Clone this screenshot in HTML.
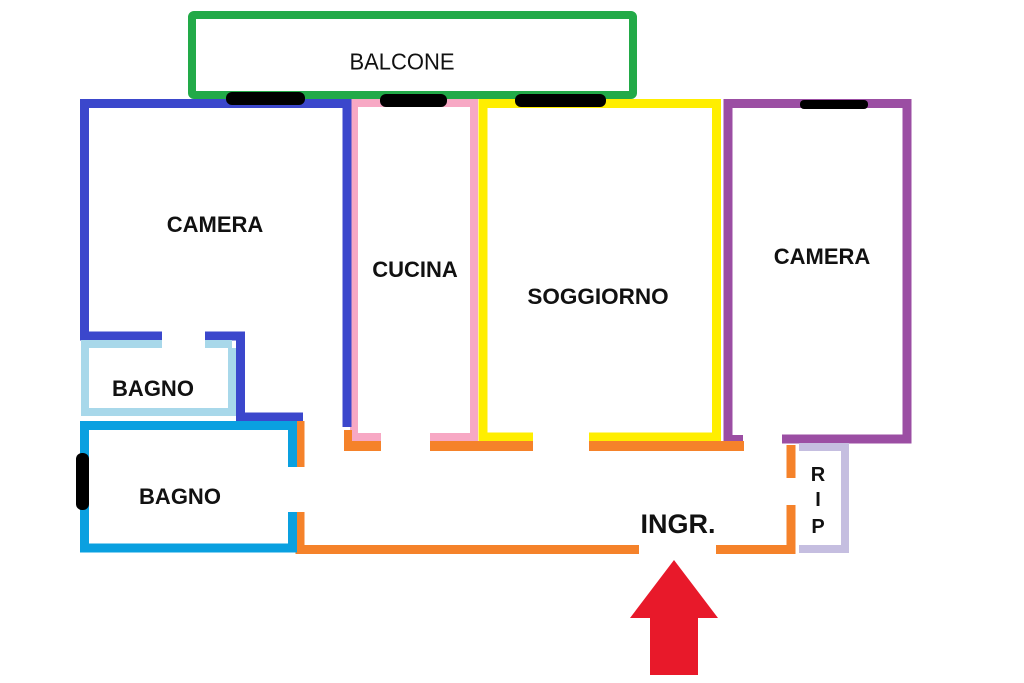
<!DOCTYPE html><html><head><style>body{margin:0;background:#fff}svg{display:block}text{font-family:"Liberation Sans",sans-serif;font-weight:bold;fill:#111;text-anchor:middle}</style></head><body>
<svg width="1024" height="683" viewBox="0 0 1024 683">
<rect x="192" y="15" width="441" height="80" fill="none" stroke="#22aa48" stroke-width="8" rx="2"/>
<path d="M728 441V103.5H907V439H782" fill="none" stroke="#9b4ea3" stroke-width="9"/>
<path d="M724 439H743" stroke="#9b4ea3" stroke-width="8"/>
<path d="M533 437H483V103.5H716.5V437H589" fill="none" stroke="#ffee00" stroke-width="9"/>
<path d="M381 437H354V103H474V437H430" fill="none" stroke="#f7a8c4" stroke-width="8"/>
<path d="M162 336H84.5V103.5H347V427" fill="none" stroke="#3b47cc" stroke-width="9"/>
<path d="M205 336H240.5V417H303" fill="none" stroke="#3b47cc" stroke-width="9"/>
<path d="M162 344H85V412H232V348M232 344H205" fill="none" stroke="#a8d8ea" stroke-width="8"/>
<path d="M300 421V467M300 512V549.5H639M716 549.5H791V505M791 478V445" fill="none" stroke="#f5822a" stroke-width="9"/>
<path d="M344 446H381M430 446H533M589 446H744" stroke="#f5822a" stroke-width="10"/>
<path d="M348 430V446" stroke="#f5822a" stroke-width="8"/>
<path d="M292.5 467V425.5H84.5V548H292.5V512" fill="none" stroke="#0aa0e0" stroke-width="9"/>
<path d="M799 447H845V549H799" fill="none" stroke="#c5bee0" stroke-width="8"/>
<g fill="#000"><rect x="226" y="92" width="79" height="13" rx="6"/><rect x="380" y="94" width="67" height="13" rx="6"/><rect x="515" y="94" width="91" height="13" rx="6"/><rect x="800" y="100" width="68" height="9" rx="4"/><rect x="76" y="453" width="13" height="57" rx="6"/></g>
<path d="M674 560L718 618H698V675H650V618H630Z" fill="#e8192a"/>
<text x="402" y="66" font-size="22" style="font-weight:normal" transform="translate(402 0) scale(1.0 1.05) translate(-402 0)">BALCONE</text>
<text x="215" y="232" font-size="22">CAMERA</text>
<text x="415" y="277" font-size="22">CUCINA</text>
<text x="598" y="304" font-size="22.5">SOGGIORNO</text>
<text x="822" y="264" font-size="22">CAMERA</text>
<text x="153" y="396" font-size="22">BAGNO</text>
<text x="180" y="504" font-size="22">BAGNO</text>
<text x="678" y="533" font-size="27">INGR.</text>
<text x="818" y="481" font-size="20">R</text>
<text x="818" y="506" font-size="20">I</text>
<text x="818" y="533" font-size="20">P</text>
</svg></body></html>
